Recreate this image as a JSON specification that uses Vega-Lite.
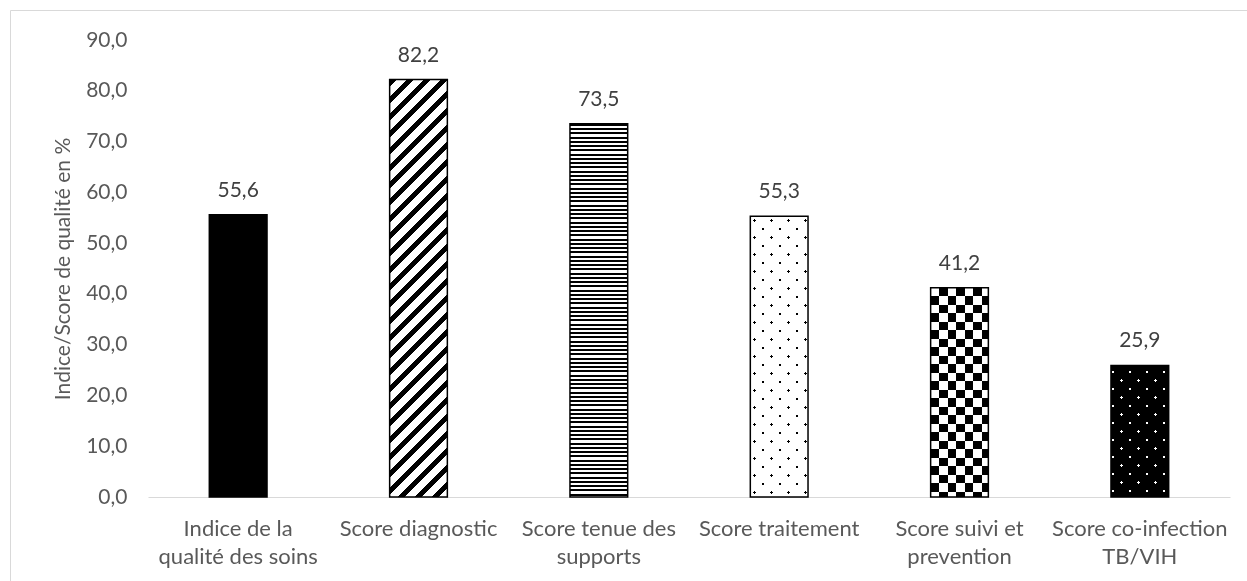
{
"$schema": "https://vega.github.io/schema/vega-lite/v6.json",
"width": 1237, "height": 571,
"padding": {"left": 10, "top": 10, "right": 0, "bottom": 0},
"autosize": {"type": "none"},
"background": "white",
"config": {
  "view": {"stroke": "#d9d9d9", "strokeWidth": 1},
  "font": "Lato",
  "locale": {"number": {"decimal": ",", "thousands": " ", "grouping": [3], "currency": ["", " €"]}}
},
"data": {"values": [
  {"categorie": "Indice de la qualité des soins", "valeur": 55.6},
  {"categorie": "Score diagnostic", "valeur": 82.2},
  {"categorie": "Score tenue des supports", "valeur": 73.5},
  {"categorie": "Score traitement", "valeur": 55.3},
  {"categorie": "Score suivi et prevention", "valeur": 41.2},
  {"categorie": "Score co-infection TB/VIH", "valeur": 25.9}
]},
"encoding": {
  "x": {"field": "categorie", "type": "nominal", "sort": null,
    "scale": {"domain": ["Indice de la qualité des soins", "Score diagnostic", "Score tenue des supports", "Score traitement", "Score suivi et prevention", "Score co-infection TB/VIH"], "range": [138, 1220], "paddingInner": 0.68, "paddingOuter": 0.34},
    "axis": {"title": null, "orient": "bottom", "offset": -84, "domainColor": "#d9d9d9", "domainWidth": 1, "ticks": false, "labelPadding": 21, "labelFont": "Lato", "labelFontSize": 22, "labelColor": "#595959", "labelAngle": 0, "labelLineHeight": 28, "labelLimit": 400,
      "labelExpr": "datum.value == 'Indice de la qualité des soins' ? ['Indice de la', 'qualité des soins'] : datum.value == 'Score tenue des supports' ? ['Score tenue des', 'supports'] : datum.value == 'Score suivi et prevention' ? ['Score suivi et', 'prevention'] : datum.value == 'Score co-infection TB/VIH' ? ['Score co-infection', 'TB/VIH'] : datum.value"}},
  "y": {"field": "valeur", "type": "quantitative",
    "scale": {"domain": [0, 90], "range": [487, 30], "nice": false, "zero": true},
    "axis": {"title": "Indice/Score de qualité en %", "offset": -138, "values": [0, 10, 20, 30, 40, 50, 60, 70, 80, 90], "format": ".1f", "domain": false, "ticks": false, "grid": false, "labelPadding": 21, "labelFont": "Lato", "labelFontSize": 21, "labelColor": "#595959", "titleFont": "Lato", "titleFontSize": 21, "titleColor": "#595959", "titleFontWeight": "normal", "titlePadding": 12}}
},
"layer": [
  {"transform": [{"filter": "datum.categorie == 'Indice de la qualité des soins'"}],
   "mark": {"type": "bar", "fill": "#000"}},
  {"transform": [{"filter": "datum.categorie == 'Score diagnostic'"}],
   "mark": {"type": "bar", "fill": {"gradient": "linear", "x1": 0, "y1": 0, "x2": 0.22101, "y2": 1.59861, "stops": [
{"offset":0,"color":"#000"},{"offset":0.011,"color":"#000"},{"offset":0.011,"color":"#fff"},{"offset":0.025,"color":"#fff"},
{"offset":0.025,"color":"#000"},{"offset":0.036,"color":"#000"},{"offset":0.036,"color":"#fff"},{"offset":0.05,"color":"#fff"},
{"offset":0.05,"color":"#000"},{"offset":0.061,"color":"#000"},{"offset":0.061,"color":"#fff"},{"offset":0.075,"color":"#fff"},
{"offset":0.075,"color":"#000"},{"offset":0.086,"color":"#000"},{"offset":0.086,"color":"#fff"},{"offset":0.1,"color":"#fff"},
{"offset":0.1,"color":"#000"},{"offset":0.111,"color":"#000"},{"offset":0.111,"color":"#fff"},{"offset":0.125,"color":"#fff"},
{"offset":0.125,"color":"#000"},{"offset":0.136,"color":"#000"},{"offset":0.136,"color":"#fff"},{"offset":0.15,"color":"#fff"},
{"offset":0.15,"color":"#000"},{"offset":0.161,"color":"#000"},{"offset":0.161,"color":"#fff"},{"offset":0.175,"color":"#fff"},
{"offset":0.175,"color":"#000"},{"offset":0.186,"color":"#000"},{"offset":0.186,"color":"#fff"},{"offset":0.2,"color":"#fff"},
{"offset":0.2,"color":"#000"},{"offset":0.211,"color":"#000"},{"offset":0.211,"color":"#fff"},{"offset":0.225,"color":"#fff"},
{"offset":0.225,"color":"#000"},{"offset":0.236,"color":"#000"},{"offset":0.236,"color":"#fff"},{"offset":0.25,"color":"#fff"},
{"offset":0.25,"color":"#000"},{"offset":0.261,"color":"#000"},{"offset":0.261,"color":"#fff"},{"offset":0.275,"color":"#fff"},
{"offset":0.275,"color":"#000"},{"offset":0.286,"color":"#000"},{"offset":0.286,"color":"#fff"},{"offset":0.3,"color":"#fff"},
{"offset":0.3,"color":"#000"},{"offset":0.311,"color":"#000"},{"offset":0.311,"color":"#fff"},{"offset":0.325,"color":"#fff"},
{"offset":0.325,"color":"#000"},{"offset":0.336,"color":"#000"},{"offset":0.336,"color":"#fff"},{"offset":0.35,"color":"#fff"},
{"offset":0.35,"color":"#000"},{"offset":0.361,"color":"#000"},{"offset":0.361,"color":"#fff"},{"offset":0.375,"color":"#fff"},
{"offset":0.375,"color":"#000"},{"offset":0.386,"color":"#000"},{"offset":0.386,"color":"#fff"},{"offset":0.4,"color":"#fff"},
{"offset":0.4,"color":"#000"},{"offset":0.411,"color":"#000"},{"offset":0.411,"color":"#fff"},{"offset":0.425,"color":"#fff"},
{"offset":0.425,"color":"#000"},{"offset":0.436,"color":"#000"},{"offset":0.436,"color":"#fff"},{"offset":0.45,"color":"#fff"},
{"offset":0.45,"color":"#000"},{"offset":0.461,"color":"#000"},{"offset":0.461,"color":"#fff"},{"offset":0.475,"color":"#fff"},
{"offset":0.475,"color":"#000"},{"offset":0.486,"color":"#000"},{"offset":0.486,"color":"#fff"},{"offset":0.5,"color":"#fff"},
{"offset":0.5,"color":"#000"},{"offset":0.511,"color":"#000"},{"offset":0.511,"color":"#fff"},{"offset":0.525,"color":"#fff"},
{"offset":0.525,"color":"#000"},{"offset":0.536,"color":"#000"},{"offset":0.536,"color":"#fff"},{"offset":0.55,"color":"#fff"},
{"offset":0.55,"color":"#000"},{"offset":0.561,"color":"#000"},{"offset":0.561,"color":"#fff"},{"offset":0.575,"color":"#fff"},
{"offset":0.575,"color":"#000"},{"offset":0.586,"color":"#000"},{"offset":0.586,"color":"#fff"},{"offset":0.6,"color":"#fff"},
{"offset":0.6,"color":"#000"},{"offset":0.611,"color":"#000"},{"offset":0.611,"color":"#fff"},{"offset":0.625,"color":"#fff"},
{"offset":0.625,"color":"#000"},{"offset":0.636,"color":"#000"},{"offset":0.636,"color":"#fff"},{"offset":0.65,"color":"#fff"},
{"offset":0.65,"color":"#000"},{"offset":0.661,"color":"#000"},{"offset":0.661,"color":"#fff"},{"offset":0.675,"color":"#fff"},
{"offset":0.675,"color":"#000"},{"offset":0.686,"color":"#000"},{"offset":0.686,"color":"#fff"},{"offset":0.7,"color":"#fff"},
{"offset":0.7,"color":"#000"},{"offset":0.711,"color":"#000"},{"offset":0.711,"color":"#fff"},{"offset":0.725,"color":"#fff"}
]}}},
  {"transform": [{"filter": "datum.categorie == 'Score tenue des supports'"}],
   "mark": {"type": "bar", "fill": {"gradient": "linear", "x1": 0, "y1": 0, "x2": 0, "y2": 1.13874, "stops": [
{"offset":0,"color":"#000"},{"offset":0.005,"color":"#000"},{"offset":0.005,"color":"#fff"},{"offset":0.01,"color":"#fff"},
{"offset":0.01,"color":"#000"},{"offset":0.015,"color":"#000"},{"offset":0.015,"color":"#fff"},{"offset":0.02,"color":"#fff"},
{"offset":0.02,"color":"#000"},{"offset":0.025,"color":"#000"},{"offset":0.025,"color":"#fff"},{"offset":0.03,"color":"#fff"},
{"offset":0.03,"color":"#000"},{"offset":0.035,"color":"#000"},{"offset":0.035,"color":"#fff"},{"offset":0.04,"color":"#fff"},
{"offset":0.04,"color":"#000"},{"offset":0.045,"color":"#000"},{"offset":0.045,"color":"#fff"},{"offset":0.05,"color":"#fff"},
{"offset":0.05,"color":"#000"},{"offset":0.055,"color":"#000"},{"offset":0.055,"color":"#fff"},{"offset":0.06,"color":"#fff"},
{"offset":0.06,"color":"#000"},{"offset":0.065,"color":"#000"},{"offset":0.065,"color":"#fff"},{"offset":0.07,"color":"#fff"},
{"offset":0.07,"color":"#000"},{"offset":0.075,"color":"#000"},{"offset":0.075,"color":"#fff"},{"offset":0.08,"color":"#fff"},
{"offset":0.08,"color":"#000"},{"offset":0.085,"color":"#000"},{"offset":0.085,"color":"#fff"},{"offset":0.09,"color":"#fff"},
{"offset":0.09,"color":"#000"},{"offset":0.095,"color":"#000"},{"offset":0.095,"color":"#fff"},{"offset":0.1,"color":"#fff"},
{"offset":0.1,"color":"#000"},{"offset":0.105,"color":"#000"},{"offset":0.105,"color":"#fff"},{"offset":0.11,"color":"#fff"},
{"offset":0.11,"color":"#000"},{"offset":0.115,"color":"#000"},{"offset":0.115,"color":"#fff"},{"offset":0.12,"color":"#fff"},
{"offset":0.12,"color":"#000"},{"offset":0.125,"color":"#000"},{"offset":0.125,"color":"#fff"},{"offset":0.13,"color":"#fff"},
{"offset":0.13,"color":"#000"},{"offset":0.135,"color":"#000"},{"offset":0.135,"color":"#fff"},{"offset":0.14,"color":"#fff"},
{"offset":0.14,"color":"#000"},{"offset":0.145,"color":"#000"},{"offset":0.145,"color":"#fff"},{"offset":0.15,"color":"#fff"},
{"offset":0.15,"color":"#000"},{"offset":0.155,"color":"#000"},{"offset":0.155,"color":"#fff"},{"offset":0.16,"color":"#fff"},
{"offset":0.16,"color":"#000"},{"offset":0.165,"color":"#000"},{"offset":0.165,"color":"#fff"},{"offset":0.17,"color":"#fff"},
{"offset":0.17,"color":"#000"},{"offset":0.175,"color":"#000"},{"offset":0.175,"color":"#fff"},{"offset":0.18,"color":"#fff"},
{"offset":0.18,"color":"#000"},{"offset":0.185,"color":"#000"},{"offset":0.185,"color":"#fff"},{"offset":0.19,"color":"#fff"},
{"offset":0.19,"color":"#000"},{"offset":0.195,"color":"#000"},{"offset":0.195,"color":"#fff"},{"offset":0.2,"color":"#fff"},
{"offset":0.2,"color":"#000"},{"offset":0.205,"color":"#000"},{"offset":0.205,"color":"#fff"},{"offset":0.21,"color":"#fff"},
{"offset":0.21,"color":"#000"},{"offset":0.215,"color":"#000"},{"offset":0.215,"color":"#fff"},{"offset":0.22,"color":"#fff"},
{"offset":0.22,"color":"#000"},{"offset":0.225,"color":"#000"},{"offset":0.225,"color":"#fff"},{"offset":0.23,"color":"#fff"},
{"offset":0.23,"color":"#000"},{"offset":0.235,"color":"#000"},{"offset":0.235,"color":"#fff"},{"offset":0.24,"color":"#fff"},
{"offset":0.24,"color":"#000"},{"offset":0.245,"color":"#000"},{"offset":0.245,"color":"#fff"},{"offset":0.25,"color":"#fff"},
{"offset":0.25,"color":"#000"},{"offset":0.255,"color":"#000"},{"offset":0.255,"color":"#fff"},{"offset":0.26,"color":"#fff"},
{"offset":0.26,"color":"#000"},{"offset":0.265,"color":"#000"},{"offset":0.265,"color":"#fff"},{"offset":0.27,"color":"#fff"},
{"offset":0.27,"color":"#000"},{"offset":0.275,"color":"#000"},{"offset":0.275,"color":"#fff"},{"offset":0.28,"color":"#fff"},
{"offset":0.28,"color":"#000"},{"offset":0.285,"color":"#000"},{"offset":0.285,"color":"#fff"},{"offset":0.29,"color":"#fff"},
{"offset":0.29,"color":"#000"},{"offset":0.295,"color":"#000"},{"offset":0.295,"color":"#fff"},{"offset":0.3,"color":"#fff"},
{"offset":0.3,"color":"#000"},{"offset":0.305,"color":"#000"},{"offset":0.305,"color":"#fff"},{"offset":0.31,"color":"#fff"},
{"offset":0.31,"color":"#000"},{"offset":0.315,"color":"#000"},{"offset":0.315,"color":"#fff"},{"offset":0.32,"color":"#fff"},
{"offset":0.32,"color":"#000"},{"offset":0.325,"color":"#000"},{"offset":0.325,"color":"#fff"},{"offset":0.33,"color":"#fff"},
{"offset":0.33,"color":"#000"},{"offset":0.335,"color":"#000"},{"offset":0.335,"color":"#fff"},{"offset":0.34,"color":"#fff"},
{"offset":0.34,"color":"#000"},{"offset":0.345,"color":"#000"},{"offset":0.345,"color":"#fff"},{"offset":0.35,"color":"#fff"},
{"offset":0.35,"color":"#000"},{"offset":0.355,"color":"#000"},{"offset":0.355,"color":"#fff"},{"offset":0.36,"color":"#fff"},
{"offset":0.36,"color":"#000"},{"offset":0.365,"color":"#000"},{"offset":0.365,"color":"#fff"},{"offset":0.37,"color":"#fff"},
{"offset":0.37,"color":"#000"},{"offset":0.375,"color":"#000"},{"offset":0.375,"color":"#fff"},{"offset":0.38,"color":"#fff"},
{"offset":0.38,"color":"#000"},{"offset":0.385,"color":"#000"},{"offset":0.385,"color":"#fff"},{"offset":0.39,"color":"#fff"},
{"offset":0.39,"color":"#000"},{"offset":0.395,"color":"#000"},{"offset":0.395,"color":"#fff"},{"offset":0.4,"color":"#fff"},
{"offset":0.4,"color":"#000"},{"offset":0.405,"color":"#000"},{"offset":0.405,"color":"#fff"},{"offset":0.41,"color":"#fff"},
{"offset":0.41,"color":"#000"},{"offset":0.415,"color":"#000"},{"offset":0.415,"color":"#fff"},{"offset":0.42,"color":"#fff"},
{"offset":0.42,"color":"#000"},{"offset":0.425,"color":"#000"},{"offset":0.425,"color":"#fff"},{"offset":0.43,"color":"#fff"},
{"offset":0.43,"color":"#000"},{"offset":0.435,"color":"#000"},{"offset":0.435,"color":"#fff"},{"offset":0.44,"color":"#fff"},
{"offset":0.44,"color":"#000"},{"offset":0.445,"color":"#000"},{"offset":0.445,"color":"#fff"},{"offset":0.45,"color":"#fff"},
{"offset":0.45,"color":"#000"},{"offset":0.455,"color":"#000"},{"offset":0.455,"color":"#fff"},{"offset":0.46,"color":"#fff"},
{"offset":0.46,"color":"#000"},{"offset":0.465,"color":"#000"},{"offset":0.465,"color":"#fff"},{"offset":0.47,"color":"#fff"},
{"offset":0.47,"color":"#000"},{"offset":0.475,"color":"#000"},{"offset":0.475,"color":"#fff"},{"offset":0.48,"color":"#fff"},
{"offset":0.48,"color":"#000"},{"offset":0.485,"color":"#000"},{"offset":0.485,"color":"#fff"},{"offset":0.49,"color":"#fff"},
{"offset":0.49,"color":"#000"},{"offset":0.495,"color":"#000"},{"offset":0.495,"color":"#fff"},{"offset":0.5,"color":"#fff"},
{"offset":0.5,"color":"#000"},{"offset":0.505,"color":"#000"},{"offset":0.505,"color":"#fff"},{"offset":0.51,"color":"#fff"},
{"offset":0.51,"color":"#000"},{"offset":0.515,"color":"#000"},{"offset":0.515,"color":"#fff"},{"offset":0.52,"color":"#fff"},
{"offset":0.52,"color":"#000"},{"offset":0.525,"color":"#000"},{"offset":0.525,"color":"#fff"},{"offset":0.53,"color":"#fff"},
{"offset":0.53,"color":"#000"},{"offset":0.535,"color":"#000"},{"offset":0.535,"color":"#fff"},{"offset":0.54,"color":"#fff"},
{"offset":0.54,"color":"#000"},{"offset":0.545,"color":"#000"},{"offset":0.545,"color":"#fff"},{"offset":0.55,"color":"#fff"},
{"offset":0.55,"color":"#000"},{"offset":0.555,"color":"#000"},{"offset":0.555,"color":"#fff"},{"offset":0.56,"color":"#fff"},
{"offset":0.56,"color":"#000"},{"offset":0.565,"color":"#000"},{"offset":0.565,"color":"#fff"},{"offset":0.57,"color":"#fff"},
{"offset":0.57,"color":"#000"},{"offset":0.575,"color":"#000"},{"offset":0.575,"color":"#fff"},{"offset":0.58,"color":"#fff"},
{"offset":0.58,"color":"#000"},{"offset":0.585,"color":"#000"},{"offset":0.585,"color":"#fff"},{"offset":0.59,"color":"#fff"},
{"offset":0.59,"color":"#000"},{"offset":0.595,"color":"#000"},{"offset":0.595,"color":"#fff"},{"offset":0.6,"color":"#fff"},
{"offset":0.6,"color":"#000"},{"offset":0.605,"color":"#000"},{"offset":0.605,"color":"#fff"},{"offset":0.61,"color":"#fff"},
{"offset":0.61,"color":"#000"},{"offset":0.615,"color":"#000"},{"offset":0.615,"color":"#fff"},{"offset":0.62,"color":"#fff"},
{"offset":0.62,"color":"#000"},{"offset":0.625,"color":"#000"},{"offset":0.625,"color":"#fff"},{"offset":0.63,"color":"#fff"},
{"offset":0.63,"color":"#000"},{"offset":0.635,"color":"#000"},{"offset":0.635,"color":"#fff"},{"offset":0.64,"color":"#fff"},
{"offset":0.64,"color":"#000"},{"offset":0.645,"color":"#000"},{"offset":0.645,"color":"#fff"},{"offset":0.65,"color":"#fff"},
{"offset":0.65,"color":"#000"},{"offset":0.655,"color":"#000"},{"offset":0.655,"color":"#fff"},{"offset":0.66,"color":"#fff"},
{"offset":0.66,"color":"#000"},{"offset":0.665,"color":"#000"},{"offset":0.665,"color":"#fff"},{"offset":0.67,"color":"#fff"},
{"offset":0.67,"color":"#000"},{"offset":0.675,"color":"#000"},{"offset":0.675,"color":"#fff"},{"offset":0.68,"color":"#fff"},
{"offset":0.68,"color":"#000"},{"offset":0.685,"color":"#000"},{"offset":0.685,"color":"#fff"},{"offset":0.69,"color":"#fff"},
{"offset":0.69,"color":"#000"},{"offset":0.695,"color":"#000"},{"offset":0.695,"color":"#fff"},{"offset":0.7,"color":"#fff"},
{"offset":0.7,"color":"#000"},{"offset":0.705,"color":"#000"},{"offset":0.705,"color":"#fff"},{"offset":0.71,"color":"#fff"},
{"offset":0.71,"color":"#000"},{"offset":0.715,"color":"#000"},{"offset":0.715,"color":"#fff"},{"offset":0.72,"color":"#fff"},
{"offset":0.72,"color":"#000"},{"offset":0.725,"color":"#000"},{"offset":0.725,"color":"#fff"},{"offset":0.73,"color":"#fff"},
{"offset":0.73,"color":"#000"},{"offset":0.735,"color":"#000"},{"offset":0.735,"color":"#fff"},{"offset":0.74,"color":"#fff"},
{"offset":0.74,"color":"#000"},{"offset":0.745,"color":"#000"},{"offset":0.745,"color":"#fff"},{"offset":0.75,"color":"#fff"},
{"offset":0.75,"color":"#000"},{"offset":0.755,"color":"#000"},{"offset":0.755,"color":"#fff"},{"offset":0.76,"color":"#fff"},
{"offset":0.76,"color":"#000"},{"offset":0.765,"color":"#000"},{"offset":0.765,"color":"#fff"},{"offset":0.77,"color":"#fff"},
{"offset":0.77,"color":"#000"},{"offset":0.775,"color":"#000"},{"offset":0.775,"color":"#fff"},{"offset":0.78,"color":"#fff"},
{"offset":0.78,"color":"#000"},{"offset":0.785,"color":"#000"},{"offset":0.785,"color":"#fff"},{"offset":0.79,"color":"#fff"},
{"offset":0.79,"color":"#000"},{"offset":0.795,"color":"#000"},{"offset":0.795,"color":"#fff"},{"offset":0.8,"color":"#fff"},
{"offset":0.8,"color":"#000"},{"offset":0.805,"color":"#000"},{"offset":0.805,"color":"#fff"},{"offset":0.81,"color":"#fff"},
{"offset":0.81,"color":"#000"},{"offset":0.815,"color":"#000"},{"offset":0.815,"color":"#fff"},{"offset":0.82,"color":"#fff"},
{"offset":0.82,"color":"#000"},{"offset":0.825,"color":"#000"},{"offset":0.825,"color":"#fff"},{"offset":0.83,"color":"#fff"},
{"offset":0.83,"color":"#000"},{"offset":0.835,"color":"#000"},{"offset":0.835,"color":"#fff"},{"offset":0.84,"color":"#fff"},
{"offset":0.84,"color":"#000"},{"offset":0.845,"color":"#000"},{"offset":0.845,"color":"#fff"},{"offset":0.85,"color":"#fff"},
{"offset":0.85,"color":"#000"},{"offset":0.855,"color":"#000"},{"offset":0.855,"color":"#fff"},{"offset":0.86,"color":"#fff"},
{"offset":0.86,"color":"#000"},{"offset":0.865,"color":"#000"},{"offset":0.865,"color":"#fff"},{"offset":0.87,"color":"#fff"},
{"offset":0.87,"color":"#000"},{"offset":0.875,"color":"#000"},{"offset":0.875,"color":"#fff"},{"offset":0.88,"color":"#fff"},
{"offset":0.88,"color":"#000"},{"offset":0.885,"color":"#000"},{"offset":0.885,"color":"#fff"},{"offset":0.89,"color":"#fff"}
]}}},
  {"transform": [{"filter": "datum.categorie == 'Score traitement'"}],
   "mark": {"type": "bar", "fill": {"gradient": "linear", "x1": 0, "y1": 0, "x2": 0.23875, "y2": 1.16176, "stops": [
{"offset":0,"color":"#fff"},
{"offset":0.02,"color":"#fff"},{"offset":0.02,"color":"#000"},{"offset":0.029,"color":"#000"},{"offset":0.029,"color":"#fff"},
{"offset":0.07,"color":"#fff"},{"offset":0.07,"color":"#000"},{"offset":0.079,"color":"#000"},{"offset":0.079,"color":"#fff"},
{"offset":0.12,"color":"#fff"},{"offset":0.12,"color":"#000"},{"offset":0.129,"color":"#000"},{"offset":0.129,"color":"#fff"},
{"offset":0.17,"color":"#fff"},{"offset":0.17,"color":"#000"},{"offset":0.179,"color":"#000"},{"offset":0.179,"color":"#fff"},
{"offset":0.22,"color":"#fff"},{"offset":0.22,"color":"#000"},{"offset":0.229,"color":"#000"},{"offset":0.229,"color":"#fff"},
{"offset":0.27,"color":"#fff"},{"offset":0.27,"color":"#000"},{"offset":0.279,"color":"#000"},{"offset":0.279,"color":"#fff"},
{"offset":0.32,"color":"#fff"},{"offset":0.32,"color":"#000"},{"offset":0.329,"color":"#000"},{"offset":0.329,"color":"#fff"},
{"offset":0.37,"color":"#fff"},{"offset":0.37,"color":"#000"},{"offset":0.379,"color":"#000"},{"offset":0.379,"color":"#fff"},
{"offset":0.42,"color":"#fff"},{"offset":0.42,"color":"#000"},{"offset":0.429,"color":"#000"},{"offset":0.429,"color":"#fff"},
{"offset":0.47,"color":"#fff"},{"offset":0.47,"color":"#000"},{"offset":0.479,"color":"#000"},{"offset":0.479,"color":"#fff"},
{"offset":0.52,"color":"#fff"},{"offset":0.52,"color":"#000"},{"offset":0.529,"color":"#000"},{"offset":0.529,"color":"#fff"},
{"offset":0.57,"color":"#fff"},{"offset":0.57,"color":"#000"},{"offset":0.579,"color":"#000"},{"offset":0.579,"color":"#fff"},
{"offset":0.62,"color":"#fff"},{"offset":0.62,"color":"#000"},{"offset":0.629,"color":"#000"},{"offset":0.629,"color":"#fff"},
{"offset":0.67,"color":"#fff"},{"offset":0.67,"color":"#000"},{"offset":0.679,"color":"#000"},{"offset":0.679,"color":"#fff"},
{"offset":0.72,"color":"#fff"},{"offset":0.72,"color":"#000"},{"offset":0.729,"color":"#000"},{"offset":0.729,"color":"#fff"},
{"offset":0.77,"color":"#fff"},{"offset":0.77,"color":"#000"},{"offset":0.779,"color":"#000"},{"offset":0.779,"color":"#fff"},
{"offset":0.82,"color":"#fff"},{"offset":0.82,"color":"#000"},{"offset":0.829,"color":"#000"},{"offset":0.829,"color":"#fff"},
{"offset":0.87,"color":"#fff"},{"offset":0.87,"color":"#000"},{"offset":0.879,"color":"#000"},{"offset":0.879,"color":"#fff"},
{"offset":0.92,"color":"#fff"},{"offset":0.92,"color":"#000"},{"offset":0.929,"color":"#000"},{"offset":0.929,"color":"#fff"},
{"offset":0.97,"color":"#fff"},{"offset":0.97,"color":"#000"},{"offset":0.979,"color":"#000"},{"offset":0.979,"color":"#fff"},
{"offset":1,"color":"#fff"}
]}}},
  {"transform": [{"filter": "datum.categorie == 'Score traitement'"}],
   "mark": {"type": "bar", "blend": "lighten", "fill": {"gradient": "linear", "x1": 0, "y1": 1, "x2": 0.23875, "y2": -0.16176, "stops": [
{"offset":0,"color":"#fff"},
{"offset":0.02,"color":"#fff"},{"offset":0.02,"color":"#000"},{"offset":0.029,"color":"#000"},{"offset":0.029,"color":"#fff"},
{"offset":0.07,"color":"#fff"},{"offset":0.07,"color":"#000"},{"offset":0.079,"color":"#000"},{"offset":0.079,"color":"#fff"},
{"offset":0.12,"color":"#fff"},{"offset":0.12,"color":"#000"},{"offset":0.129,"color":"#000"},{"offset":0.129,"color":"#fff"},
{"offset":0.17,"color":"#fff"},{"offset":0.17,"color":"#000"},{"offset":0.179,"color":"#000"},{"offset":0.179,"color":"#fff"},
{"offset":0.22,"color":"#fff"},{"offset":0.22,"color":"#000"},{"offset":0.229,"color":"#000"},{"offset":0.229,"color":"#fff"},
{"offset":0.27,"color":"#fff"},{"offset":0.27,"color":"#000"},{"offset":0.279,"color":"#000"},{"offset":0.279,"color":"#fff"},
{"offset":0.32,"color":"#fff"},{"offset":0.32,"color":"#000"},{"offset":0.329,"color":"#000"},{"offset":0.329,"color":"#fff"},
{"offset":0.37,"color":"#fff"},{"offset":0.37,"color":"#000"},{"offset":0.379,"color":"#000"},{"offset":0.379,"color":"#fff"},
{"offset":0.42,"color":"#fff"},{"offset":0.42,"color":"#000"},{"offset":0.429,"color":"#000"},{"offset":0.429,"color":"#fff"},
{"offset":0.47,"color":"#fff"},{"offset":0.47,"color":"#000"},{"offset":0.479,"color":"#000"},{"offset":0.479,"color":"#fff"},
{"offset":0.52,"color":"#fff"},{"offset":0.52,"color":"#000"},{"offset":0.529,"color":"#000"},{"offset":0.529,"color":"#fff"},
{"offset":0.57,"color":"#fff"},{"offset":0.57,"color":"#000"},{"offset":0.579,"color":"#000"},{"offset":0.579,"color":"#fff"},
{"offset":0.62,"color":"#fff"},{"offset":0.62,"color":"#000"},{"offset":0.629,"color":"#000"},{"offset":0.629,"color":"#fff"},
{"offset":0.67,"color":"#fff"},{"offset":0.67,"color":"#000"},{"offset":0.679,"color":"#000"},{"offset":0.679,"color":"#fff"},
{"offset":0.72,"color":"#fff"},{"offset":0.72,"color":"#000"},{"offset":0.729,"color":"#000"},{"offset":0.729,"color":"#fff"},
{"offset":0.77,"color":"#fff"},{"offset":0.77,"color":"#000"},{"offset":0.779,"color":"#000"},{"offset":0.779,"color":"#fff"},
{"offset":0.82,"color":"#fff"},{"offset":0.82,"color":"#000"},{"offset":0.829,"color":"#000"},{"offset":0.829,"color":"#fff"},
{"offset":0.87,"color":"#fff"},{"offset":0.87,"color":"#000"},{"offset":0.879,"color":"#000"},{"offset":0.879,"color":"#fff"},
{"offset":0.92,"color":"#fff"},{"offset":0.92,"color":"#000"},{"offset":0.929,"color":"#000"},{"offset":0.929,"color":"#fff"},
{"offset":0.97,"color":"#fff"},{"offset":0.97,"color":"#000"},{"offset":0.979,"color":"#000"},{"offset":0.979,"color":"#fff"},
{"offset":1,"color":"#fff"}
]}}},
  {"transform": [{"filter": "datum.categorie == 'Score suivi et prevention'"}],
   "mark": {"type": "bar", "fill": {"gradient": "linear", "x1": 0, "y1": 0, "x2": 1.47295, "y2": 0, "stops": [
{"offset":0,"color":"#000"},{"offset":0.1,"color":"#000"},{"offset":0.1,"color":"#fff"},{"offset":0.2,"color":"#fff"},
{"offset":0.2,"color":"#000"},{"offset":0.3,"color":"#000"},{"offset":0.3,"color":"#fff"},{"offset":0.4,"color":"#fff"},
{"offset":0.4,"color":"#000"},{"offset":0.5,"color":"#000"},{"offset":0.5,"color":"#fff"},{"offset":0.6,"color":"#fff"},
{"offset":0.6,"color":"#000"},{"offset":0.7,"color":"#000"},{"offset":0.7,"color":"#fff"},{"offset":0.8,"color":"#fff"}
]}}},
  {"transform": [{"filter": "datum.categorie == 'Score suivi et prevention'"}],
   "mark": {"type": "bar", "blend": "difference", "fill": {"gradient": "linear", "x1": 0, "y1": 0, "x2": 0, "y2": 1.62521, "stops": [
{"offset":0,"color":"#fff"},{"offset":0.025,"color":"#fff"},{"offset":0.025,"color":"#000"},{"offset":0.05,"color":"#000"},
{"offset":0.05,"color":"#fff"},{"offset":0.075,"color":"#fff"},{"offset":0.075,"color":"#000"},{"offset":0.1,"color":"#000"},
{"offset":0.1,"color":"#fff"},{"offset":0.125,"color":"#fff"},{"offset":0.125,"color":"#000"},{"offset":0.15,"color":"#000"},
{"offset":0.15,"color":"#fff"},{"offset":0.175,"color":"#fff"},{"offset":0.175,"color":"#000"},{"offset":0.2,"color":"#000"},
{"offset":0.2,"color":"#fff"},{"offset":0.225,"color":"#fff"},{"offset":0.225,"color":"#000"},{"offset":0.25,"color":"#000"},
{"offset":0.25,"color":"#fff"},{"offset":0.275,"color":"#fff"},{"offset":0.275,"color":"#000"},{"offset":0.3,"color":"#000"},
{"offset":0.3,"color":"#fff"},{"offset":0.325,"color":"#fff"},{"offset":0.325,"color":"#000"},{"offset":0.35,"color":"#000"},
{"offset":0.35,"color":"#fff"},{"offset":0.375,"color":"#fff"},{"offset":0.375,"color":"#000"},{"offset":0.4,"color":"#000"},
{"offset":0.4,"color":"#fff"},{"offset":0.425,"color":"#fff"},{"offset":0.425,"color":"#000"},{"offset":0.45,"color":"#000"},
{"offset":0.45,"color":"#fff"},{"offset":0.475,"color":"#fff"},{"offset":0.475,"color":"#000"},{"offset":0.5,"color":"#000"},
{"offset":0.5,"color":"#fff"},{"offset":0.525,"color":"#fff"},{"offset":0.525,"color":"#000"},{"offset":0.55,"color":"#000"},
{"offset":0.55,"color":"#fff"},{"offset":0.575,"color":"#fff"},{"offset":0.575,"color":"#000"},{"offset":0.6,"color":"#000"},
{"offset":0.6,"color":"#fff"},{"offset":0.625,"color":"#fff"},{"offset":0.625,"color":"#000"},{"offset":0.65,"color":"#000"},
{"offset":0.65,"color":"#fff"},{"offset":0.675,"color":"#fff"}
]}}},
  {"transform": [{"filter": "datum.categorie == 'Score co-infection TB/VIH'"}],
   "mark": {"type": "bar", "fill": {"gradient": "linear", "x1": 0, "y1": 0, "x2": 0.95125, "y2": 2.16788, "stops": [
{"offset":0,"color":"#000"},
{"offset":0.02,"color":"#000"},{"offset":0.02,"color":"#fff"},{"offset":0.029,"color":"#fff"},{"offset":0.029,"color":"#000"},
{"offset":0.07,"color":"#000"},{"offset":0.07,"color":"#fff"},{"offset":0.079,"color":"#fff"},{"offset":0.079,"color":"#000"},
{"offset":0.12,"color":"#000"},{"offset":0.12,"color":"#fff"},{"offset":0.129,"color":"#fff"},{"offset":0.129,"color":"#000"},
{"offset":0.17,"color":"#000"},{"offset":0.17,"color":"#fff"},{"offset":0.179,"color":"#fff"},{"offset":0.179,"color":"#000"},
{"offset":0.22,"color":"#000"},{"offset":0.22,"color":"#fff"},{"offset":0.229,"color":"#fff"},{"offset":0.229,"color":"#000"},
{"offset":0.27,"color":"#000"},{"offset":0.27,"color":"#fff"},{"offset":0.279,"color":"#fff"},{"offset":0.279,"color":"#000"},
{"offset":0.32,"color":"#000"},{"offset":0.32,"color":"#fff"},{"offset":0.329,"color":"#fff"},{"offset":0.329,"color":"#000"},
{"offset":0.37,"color":"#000"},{"offset":0.37,"color":"#fff"},{"offset":0.379,"color":"#fff"},{"offset":0.379,"color":"#000"},
{"offset":0.42,"color":"#000"},{"offset":0.42,"color":"#fff"},{"offset":0.429,"color":"#fff"},{"offset":0.429,"color":"#000"},
{"offset":0.47,"color":"#000"},{"offset":0.47,"color":"#fff"},{"offset":0.479,"color":"#fff"},{"offset":0.479,"color":"#000"},
{"offset":0.52,"color":"#000"},{"offset":0.52,"color":"#fff"},{"offset":0.529,"color":"#fff"},{"offset":0.529,"color":"#000"},
{"offset":0.57,"color":"#000"},{"offset":0.57,"color":"#fff"},{"offset":0.579,"color":"#fff"},{"offset":0.579,"color":"#000"},
{"offset":1,"color":"#000"}
]}}},
  {"transform": [{"filter": "datum.categorie == 'Score co-infection TB/VIH'"}],
   "mark": {"type": "bar", "blend": "darken", "fill": {"gradient": "linear", "x1": 0, "y1": 1, "x2": 0.95125, "y2": -1.16788, "stops": [
{"offset":0,"color":"#000"},
{"offset":0.02,"color":"#000"},{"offset":0.02,"color":"#fff"},{"offset":0.029,"color":"#fff"},{"offset":0.029,"color":"#000"},
{"offset":0.07,"color":"#000"},{"offset":0.07,"color":"#fff"},{"offset":0.079,"color":"#fff"},{"offset":0.079,"color":"#000"},
{"offset":0.12,"color":"#000"},{"offset":0.12,"color":"#fff"},{"offset":0.129,"color":"#fff"},{"offset":0.129,"color":"#000"},
{"offset":0.17,"color":"#000"},{"offset":0.17,"color":"#fff"},{"offset":0.179,"color":"#fff"},{"offset":0.179,"color":"#000"},
{"offset":0.22,"color":"#000"},{"offset":0.22,"color":"#fff"},{"offset":0.229,"color":"#fff"},{"offset":0.229,"color":"#000"},
{"offset":0.27,"color":"#000"},{"offset":0.27,"color":"#fff"},{"offset":0.279,"color":"#fff"},{"offset":0.279,"color":"#000"},
{"offset":0.32,"color":"#000"},{"offset":0.32,"color":"#fff"},{"offset":0.329,"color":"#fff"},{"offset":0.329,"color":"#000"},
{"offset":0.37,"color":"#000"},{"offset":0.37,"color":"#fff"},{"offset":0.379,"color":"#fff"},{"offset":0.379,"color":"#000"},
{"offset":0.42,"color":"#000"},{"offset":0.42,"color":"#fff"},{"offset":0.429,"color":"#fff"},{"offset":0.429,"color":"#000"},
{"offset":0.47,"color":"#000"},{"offset":0.47,"color":"#fff"},{"offset":0.479,"color":"#fff"},{"offset":0.479,"color":"#000"},
{"offset":0.52,"color":"#000"},{"offset":0.52,"color":"#fff"},{"offset":0.529,"color":"#fff"},{"offset":0.529,"color":"#000"},
{"offset":0.57,"color":"#000"},{"offset":0.57,"color":"#fff"},{"offset":0.579,"color":"#fff"},{"offset":0.579,"color":"#000"},
{"offset":1,"color":"#000"}
]}}},
  {"mark": {"type": "bar", "fill": "#fff", "fillOpacity": 0, "stroke": "#000", "strokeWidth": 1.5}},
  {"mark": {"type": "text", "baseline": "alphabetic", "dy": -18, "font": "Lato", "fontSize": 21, "color": "#404040"},
   "encoding": {"text": {"field": "valeur", "type": "quantitative", "format": ".1f"}}}
]
}
